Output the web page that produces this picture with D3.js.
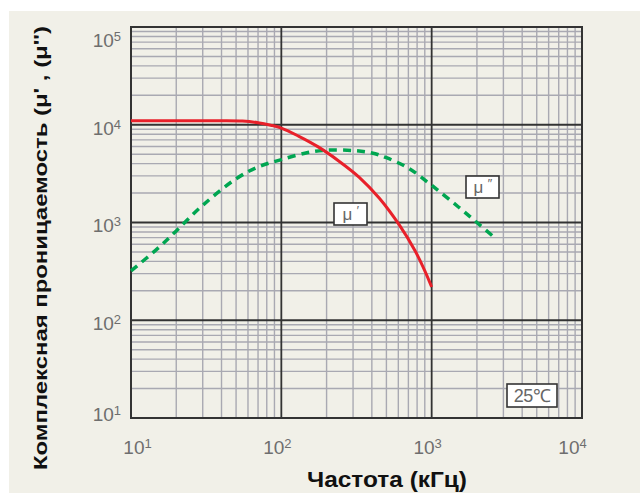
<!DOCTYPE html>
<html>
<head>
<meta charset="utf-8">
<script src="https://cdn.jsdelivr.net/npm/d3@7"></script>
<style>
  body { margin: 0; background: #fff; }
  svg { display: block; font-family: "Liberation Sans", Arial, sans-serif; }
</style>
</head>
<body>
<svg width="640" height="493"></svg>
<script>
// frequency (kHz) and values
var freqReal = [10, 25, 40, 55, 70, 85, 100, 130, 177, 242, 330, 449, 612, 772, 902, 1000];
var muReal   = [11000, 11000, 11000, 10900, 10500, 9900, 9250, 7660, 5900, 4240, 2900, 1770, 933, 520, 319, 219];

var freqImag = [10, 15, 20, 30, 50, 70, 100, 150, 200, 300, 400, 500, 700, 1000, 1500, 2000, 2650];
var muImag   = [320, 540, 820, 1500, 2800, 3700, 4400, 5200, 5500, 5450, 5150, 4600, 3600, 2400, 1450, 1000, 690];

var decades = [10, 100, 1000, 10000];
var yDecades = [10, 100, 1000, 10000, 100000];
var minorSteps = [2, 3, 4, 5, 6, 7, 8, 9];

var svg = d3.select("svg"),
    margin = {top: 27, right: 58, bottom: 75, left: 131},
    width = 640 - margin.left - margin.right,
    height = 493 - margin.top - margin.bottom;

// beige backdrop
svg.append("rect")
    .attr("x", 9).attr("y", 11)
    .attr("width", 631).attr("height", 482)
    .attr("fill", "#f1f0e8");

var g = svg.append("g").attr("transform", "translate(" + margin.left + "," + margin.top + ")");

var x = d3.scaleLog().domain([10, 10000]).range([0, width]);
var y = d3.scaleLog().domain([10, 100000]).range([height, 0]);

// minor grid
var minorX = [], minorY = [];
decades.slice(0, -1).forEach(function(d) { minorSteps.forEach(function(s) { minorX.push(d * s); }); });
yDecades.slice(0, -1).forEach(function(d) { minorSteps.forEach(function(s) { minorY.push(d * s); }); });

g.selectAll(".minor-x").data(minorX).enter().append("line")
    .attr("x1", x).attr("x2", x).attr("y1", 0).attr("y2", height)
    .attr("stroke", "#a9a9b2").attr("stroke-width", 1.4);
g.selectAll(".minor-y").data(minorY).enter().append("line")
    .attr("y1", y).attr("y2", y).attr("x1", 0).attr("x2", width)
    .attr("stroke", "#a9a9b2").attr("stroke-width", 1.4);

// major grid
g.selectAll(".major-x").data(decades).enter().append("line")
    .attr("x1", x).attr("x2", x).attr("y1", 0).attr("y2", height)
    .attr("stroke", "#333").attr("stroke-width", 1.8);
g.selectAll(".major-y").data(yDecades).enter().append("line")
    .attr("y1", y).attr("y2", y).attr("x1", 0).attr("x2", width)
    .attr("stroke", "#333").attr("stroke-width", 1.8);

g.append("rect")
    .attr("width", width).attr("height", height)
    .attr("fill", "none").attr("stroke", "#333").attr("stroke-width", 2);

// tick labels
function powLabel(sel, v) {
  sel.append("tspan").text("10");
  sel.append("tspan").attr("dy", "-0.45em").attr("font-size", "13px").text(Math.round(Math.log10(v)));
}

yDecades.forEach(function(v) {
  var yy = Math.max(13, Math.min(height - 4, y(v) + 3));
  g.append("text")
      .attr("x", -10).attr("y", yy).attr("dy", "0.36em")
      .attr("text-anchor", "end")
      .attr("font-size", "19px").attr("fill", "#6e6e6e")
      .call(powLabel, v);
});

decades.forEach(function(v) {
  var xx = Math.max(6.5, Math.min(width - 9.5, x(v) - 4));
  g.append("text")
      .attr("x", xx).attr("y", height + 36)
      .attr("text-anchor", "middle")
      .attr("font-size", "19px").attr("fill", "#6e6e6e")
      .call(powLabel, v);
});

// curves
var line = d3.line()
    .x(function(d) { return x(d[0]); })
    .y(function(d) { return y(d[1]); })
    .curve(d3.curveCatmullRom.alpha(0.5));

g.append("path")
    .datum(d3.zip(freqImag, muImag))
    .attr("d", line)
    .attr("fill", "none")
    .attr("stroke", "#00a651")
    .attr("stroke-width", 3.5)
    .attr("stroke-dasharray", "8,6");

g.append("path")
    .datum(d3.zip(freqReal, muReal))
    .attr("d", line)
    .attr("fill", "none")
    .attr("stroke", "#e8202a")
    .attr("stroke-width", 3);

// boxed labels
function boxLabel(x0, y0, w, h, parts) {
  var b = svg.append("g").attr("transform", "translate(" + x0 + "," + y0 + ")");
  b.append("rect").attr("width", w).attr("height", h)
      .attr("fill", "#fff").attr("stroke", "#333").attr("stroke-width", 1.6);
  var t = b.append("text").attr("x", w / 2).attr("y", h / 2).attr("dy", "0.36em")
      .attr("text-anchor", "middle").attr("fill", "#666").attr("font-size", "17px");
  parts(t);
}

boxLabel(334, 203, 33, 22, function(t) {
  t.append("tspan").text("μ");
  t.append("tspan").attr("dy", "-0.4em").attr("font-size", "13px").attr("font-style", "italic").text(" ′");
});
boxLabel(466, 176, 33, 22, function(t) {
  t.append("tspan").text("μ");
  t.append("tspan").attr("dy", "-0.4em").attr("font-size", "13px").attr("font-style", "italic").text(" ″");
});
boxLabel(507, 384, 50, 23, function(t) {
  t.attr("font-size", "18px").attr("letter-spacing", "-0.5px").text("25℃");
});

// axis titles
svg.append("text")
    .attr("transform", "translate(47,248) rotate(-90)")
    .attr("text-anchor", "middle")
    .attr("font-size", "19px").attr("font-weight", "bold").attr("fill", "#111")
    .attr("textLength", 444).attr("lengthAdjust", "spacingAndGlyphs")
    .text("Комплексная проницаемость (μ' , (μ'')");

svg.append("text")
    .attr("x", 387).attr("y", 487)
    .attr("text-anchor", "middle")
    .attr("font-size", "22px").attr("font-weight", "bold").attr("fill", "#111")
    .attr("textLength", 160).attr("lengthAdjust", "spacingAndGlyphs")
    .text("Частота (кГц)");
</script>
</body>
</html>
